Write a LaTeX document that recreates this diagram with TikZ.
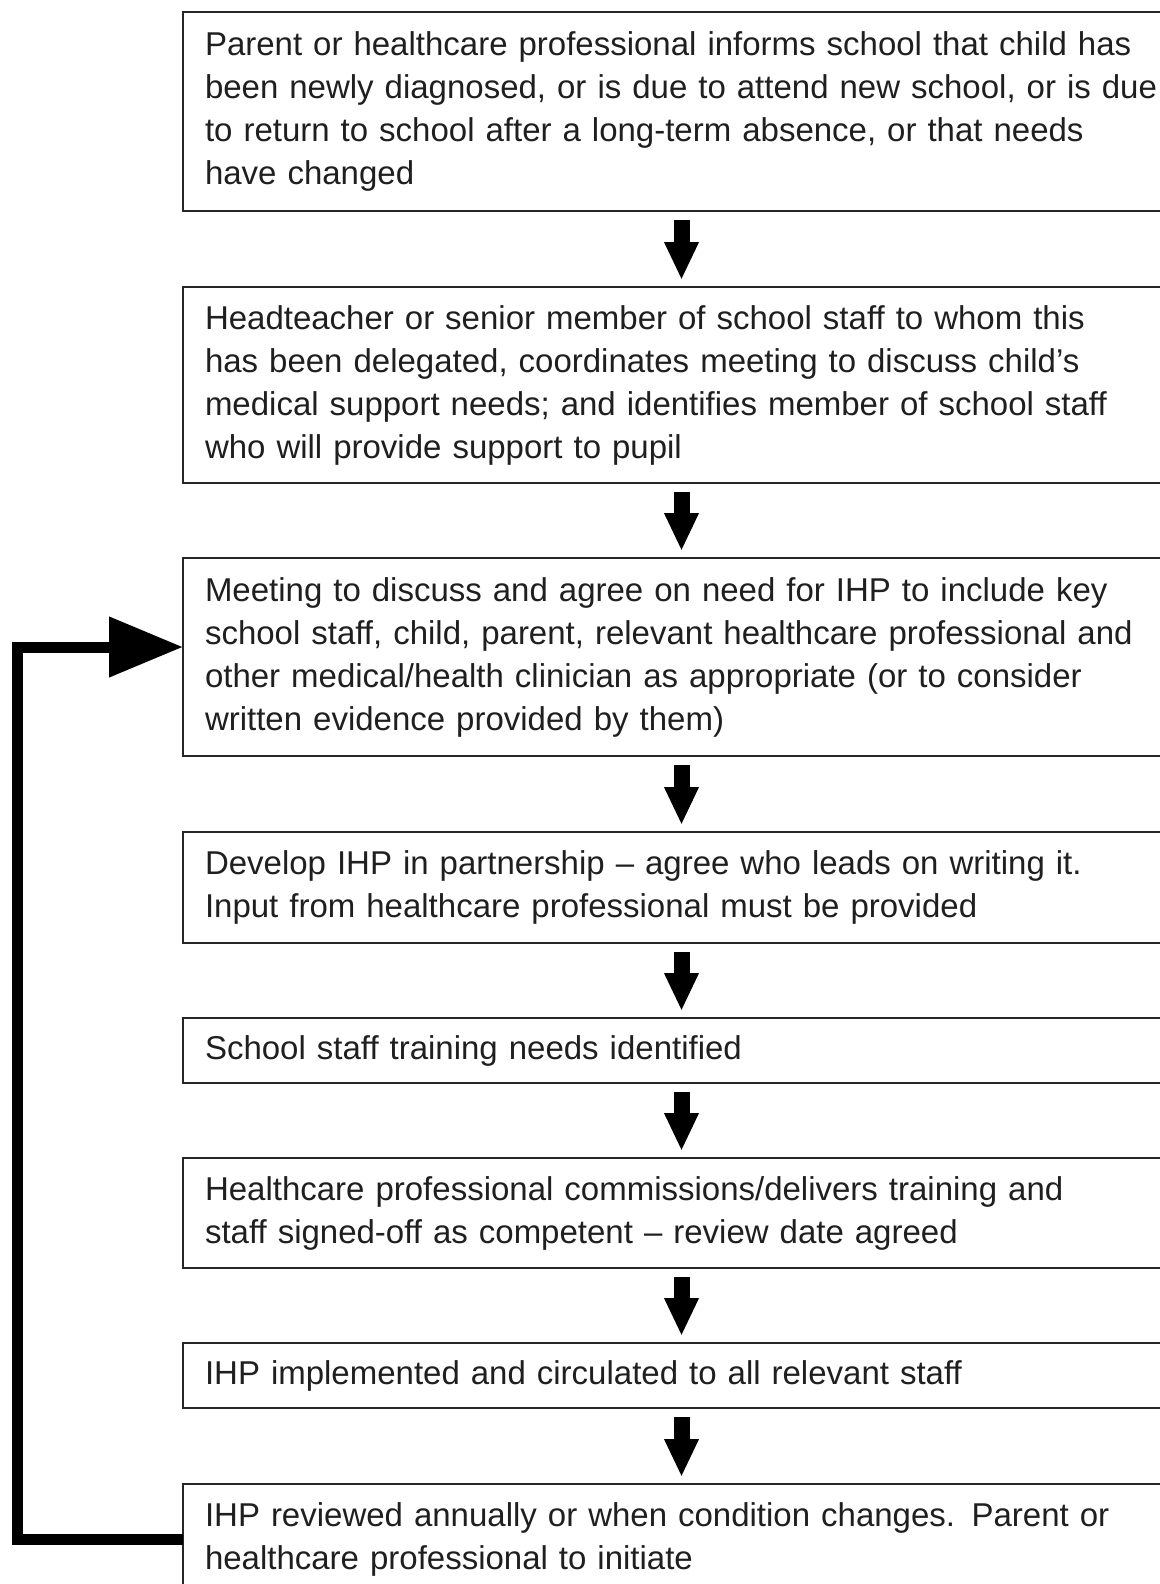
\documentclass[tikz,border=0pt]{standalone}
\usepackage{fontspec}
\setmainfont{Liberation Sans}
\usetikzlibrary{arrows.meta,calc}
\begin{document}
\begin{tikzpicture}[x=0.5pt,y=-0.5pt,
  stepbox/.style={draw=black!85, line width=1pt, anchor=north west, outer sep=0pt,
    inner xsep=11pt, inner ysep=0pt, text width=476.5pt, minimum width=498.5pt,
    align=left, font=\fontsize{16.5pt}{21.5pt}\selectfont, text=black!88},
  flow/.style={line width=8pt, -{Triangle[length=19pt,width=16pt]},
    shorten <=4.5pt, shorten >=3.5pt},
  backarrow/.style={line width=5.5pt, line join=miter, -{Triangle[length=37pt,width=29pt]}}]
\path[use as bounding box] (0,0) rectangle (1160,1584);
\clip (0,0) rectangle (1160,1584);

\node[stepbox, minimum height=99.5pt] (b1) at (183,12)
  {Parent or healthcare professional informs school that child has\\
   been newly diagnosed, or is due to attend new school, or is due\\
   to return to school after a long-term absence, or that needs\\
   have changed};
\node[stepbox, minimum height=98pt] (b2) at (183,287)
  {Headteacher or senior member of school staff to whom this\\
   has been delegated, coordinates meeting to discuss child’s\\
   medical support needs; and identifies member of school staff\\
   who will provide support to pupil};
\node[stepbox, minimum height=99pt] (b3) at (183,558)
  {Meeting to discuss and agree on need for IHP to include key\\
   school staff, child, parent, relevant healthcare professional and\\
   other medical/health clinician as appropriate (or to consider\\
   written evidence provided by them)};
\node[stepbox, minimum height=55.5pt] (b4) at (183,832)
  {Develop IHP in partnership – agree who leads on writing it.\\
   Input from healthcare professional must be provided};
\node[stepbox, minimum height=32.5pt] (b5) at (183,1018)
  {School staff training needs identified};
\node[stepbox, minimum height=55pt] (b6) at (183,1158)
  {Healthcare professional commissions/delivers training and\\
   staff signed-off as competent – review date agreed};
\node[stepbox, minimum height=32.5pt] (b7) at (183,1343)
  {IHP implemented and circulated to all relevant staff};
\node[stepbox, minimum height=55pt] (b8) at (183,1484)
  {IHP reviewed annually or when condition changes. Parent or\\
   healthcare professional to initiate};

\draw[flow] (b1) -- (b2);
\draw[flow] (b2) -- (b3);
\draw[flow] (b3) -- (b4);
\draw[flow] (b4) -- (b5);
\draw[flow] (b5) -- (b6);
\draw[flow] (b6) -- (b7);
\draw[flow] (b7) -- (b8);

\coordinate (lx) at (17,0);
\coordinate (b3in) at ($(b3.west)+(0,-10)$);
\draw[backarrow] (b8.west) -- (b8.west -| lx) -- (b3in -| lx) -- (b3in);
\end{tikzpicture}
\end{document}
